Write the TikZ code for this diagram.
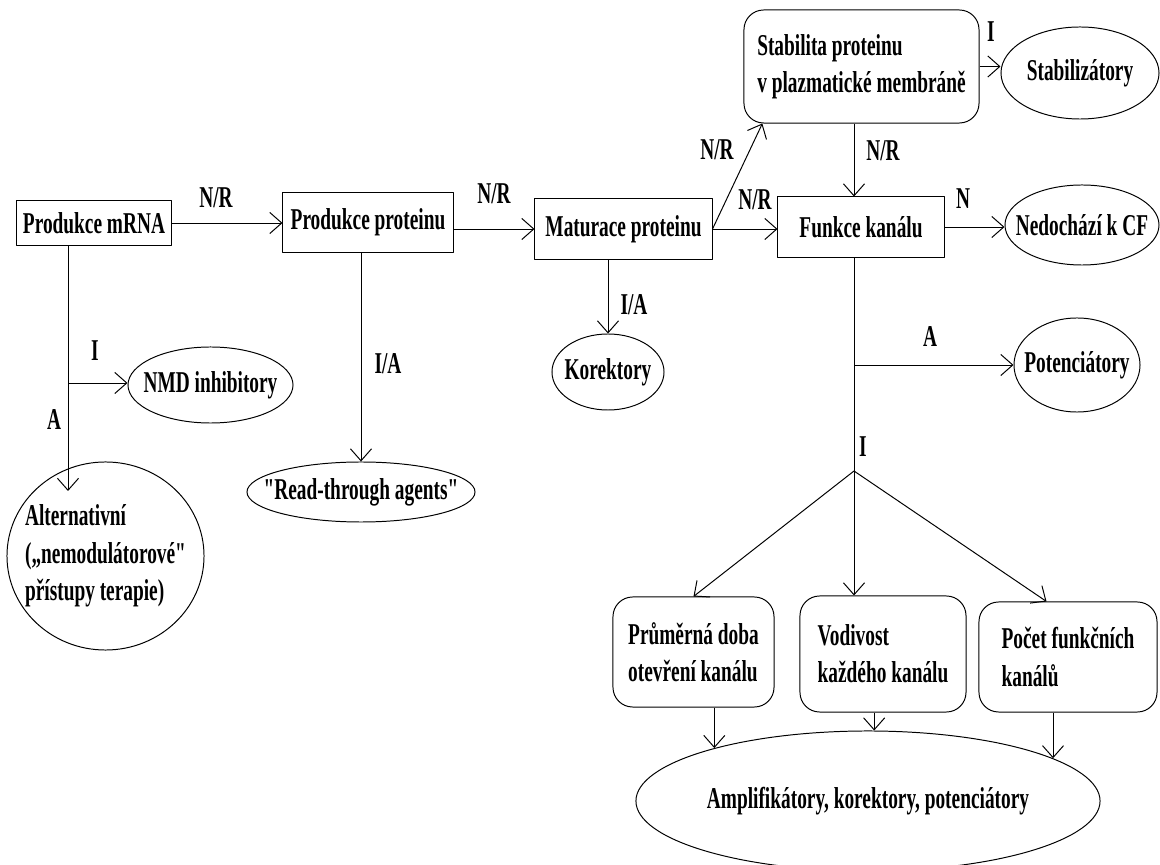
\documentclass[tikz,border=0pt]{standalone}
\usepackage{fontspec}
\setmainfont{Liberation Serif}[FakeStretch=0.64, Ligatures=TeXOff]
\usetikzlibrary{shapes.geometric,arrows.meta,calc}
\tikzset{
  box/.style={draw, rectangle, inner sep=0pt},
  rbox/.style={draw, rectangle, rounded corners=14pt, inner sep=0pt, align=left},
  oval/.style={draw, ellipse, inner xsep=-14pt, inner ysep=0pt, align=left},
}
\begin{document}
\begin{tikzpicture}[x=0.025cm, y=-0.025cm, font=\fontsize{21.5}{26.5}\selectfont\bfseries,
    line width=0.7pt, line join=round, >={Straight Barb[length=8.5pt,width=15pt]}]
  \useasboundingbox (0,0) rectangle (1160,865);
  % hlavni rada
  \node[box, minimum width=3.875cm, minimum height=1.1cm] (mrna) at (94,223) {Produkce mRNA};
  \node[box, minimum width=4.25cm, minimum height=1.475cm] (prot) at (368,222.5) {Produkce proteinu};
  \node[box, minimum width=4.425cm, minimum height=1.5cm] (mat) at (623.5,229) {Maturace proteinu};
  \node[box, minimum width=4.15cm, minimum height=1.5cm] (fun) at (861,227) {Funkce kanálu};
  \node[rbox, minimum width=5.875cm, minimum height=2.825cm] (stab) at (861.5,66.5) {Stabilita proteinu\\v plazmatické membráně};
  % ovaly
  \node[oval, minimum width=3.95cm, minimum height=2.3cm] (stz) at (1080,73) {Stabilizátory};
  \node[oval, minimum width=3.85cm, minimum height=2cm] (ned) at (1082,225) {Nedochází k CF};
  \node[oval, minimum width=2.8cm, minimum height=1.9cm] (kor) at (608,372) {Korektory};
  \node[oval, minimum width=4.125cm, minimum height=1.9cm] (nmd) at (210.5,385) {NMD inhibitory};
  \node[oval, minimum width=5.7cm, minimum height=1.5cm] (rt) at (361,492) {"Read-through agents"};
  \node[oval, minimum width=4.925cm, minimum height=4.7cm] (alt) at (105.5,556) {Alternativní\\(„nemodulátorové"\\přístupy terapie)};
  \node[oval, minimum width=3.15cm, minimum height=2.35cm] (pot) at (1077,365) {Potenciátory};
  % spodni rada
  \node[rbox, minimum width=4.025cm, minimum height=2.75cm] (b1) at (693.5,652) {Průměrná doba\\otevření kanálu};
  \node[rbox, minimum width=4.15cm, minimum height=2.9cm] (b2) at (883,654) {Vodivost\\každého kanálu};
  \node[rbox, minimum width=4.45cm, minimum height=2.75cm] (b3) at (1068,657) {Počet funkčních\\kanálů};
  \node[oval, minimum width=11.6cm, minimum height=3.5cm] (amp) at (868,801) {Amplifikátory, korektory, potenciátory};
  % body vetveni
  \coordinate (jm) at (68,383);
  \coordinate (altin) at (68,491);
  \coordinate (jb) at (854,365);
  \coordinate (jn) at (854,471);
  % sipky
  \draw[->] (mrna.east) -- (mrna.east -| prot.west);
  \draw[->] (prot.east |- mat.west) -- (mat.west);
  \draw[->] (mat.east) -- (mat.east -| fun.west);
  \draw[->] (mat.east) -- ($(stab.south west)!0.08!(stab.south east)$);
  \draw[->] (stab.east) -- (stab.east -| stz.west);
  \draw[->] (fun.east) -- (fun.east -| ned.west);
  \draw[->] (stab.south -| jn) -- (fun.north -| jn);
  \draw (fun.south -| jn) -- (jn);
  \draw[->] (jb) -- (pot.west);
  \draw[->] (jn) -- (b1.north);
  \draw[->] (jn) -- (b2.north -| jn);
  \draw[->] (jn) -- ($(b3.north west)!0.38!(b3.north east)$);
  \draw[->] (b1.south -| amp.161.6) -- (amp.161.6);
  \draw[->] (b2.south -| amp.85) -- (amp.85);
  \draw[->] (b3.south -| amp.13.6) -- (amp.13.6);
  \draw[->] (mrna.south -| jm) -- (altin);
  \draw[->] (jm) -- (jm -| nmd.west);
  \draw[->] (rt.north |- prot.south) -- (rt.north);
  \draw[->] (kor.north |- mat.south) -- (kor.north);
  % popisky
  \node (nr1) at (216,198) {N/R};
  \node (nr2) at (494,194) {N/R};
  \node (nr3) at (717,150) {N/R};
  \node (nr4) at (755,200) {N/R};
  \node (nr5) at (883,151) {N/R};
  \node (n1) at (963,199) {N};
  \node (i1) at (991,32) {I};
  \node (i2) at (95,351) {I};
  \node (a1) at (54,420) {A};
  \node (ia1) at (388,364) {I/A};
  \node (ia2) at (634,305) {I/A};
  \node (a2) at (930,337) {A};
  \node (i3) at (863,447) {I};
\end{tikzpicture}
\end{document}
